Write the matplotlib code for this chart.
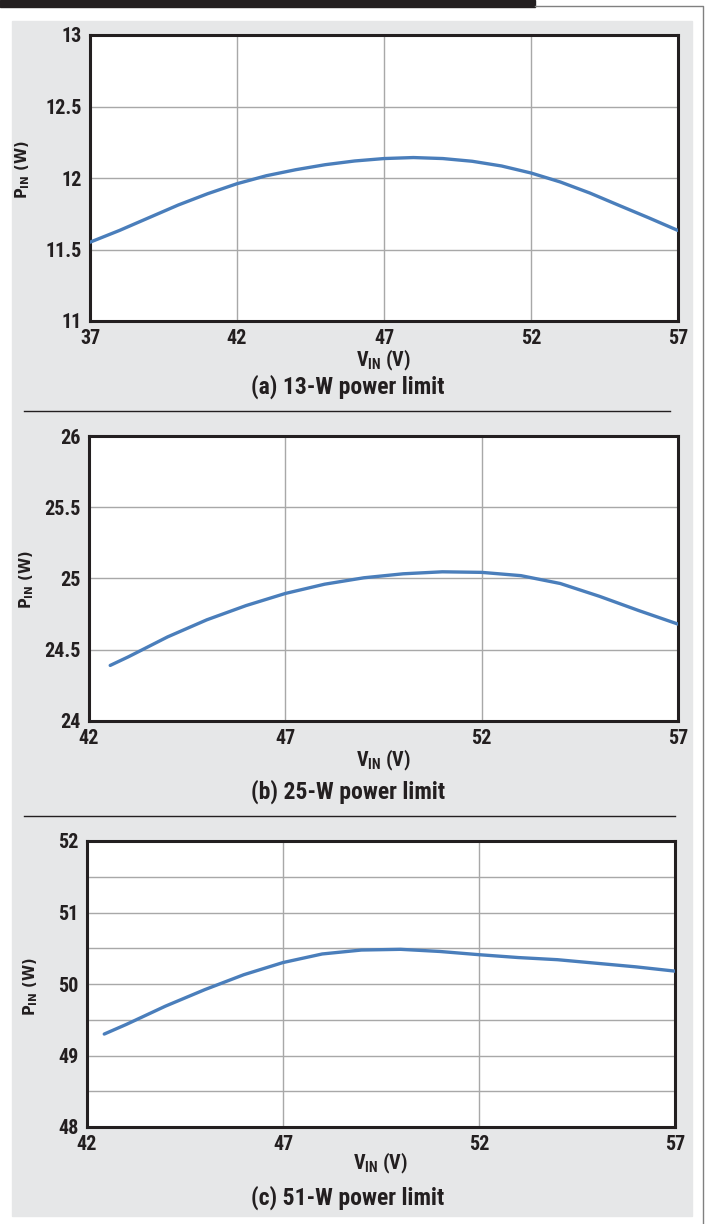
import matplotlib
matplotlib.use('Agg')
import matplotlib.pyplot as plt
from matplotlib import font_manager
from matplotlib.patches import Rectangle
from matplotlib.lines import Line2D

# ---- data ----
vin_a = [37, 38, 39, 40, 41, 42, 43, 44, 45, 46, 47, 48, 49, 50, 51, 52, 53, 54, 55, 56, 57]
pin_a = [11.551, 11.633, 11.722, 11.811, 11.890, 11.960, 12.016, 12.058, 12.093, 12.119, 12.136,
         12.143, 12.136, 12.117, 12.084, 12.035, 11.972, 11.895, 11.808, 11.722, 11.633]

vin_b = [42.54, 43, 44, 45, 46, 47, 48, 49, 50, 51, 52, 53, 54, 55, 56, 57]
pin_b = [24.39, 24.45, 24.59, 24.71, 24.81, 24.895, 24.96, 25.005, 25.033, 25.047,
         25.043, 25.02, 24.965, 24.875, 24.775, 24.68]

vin_c = [42.44, 43, 44, 45, 46, 47, 48, 49, 50, 51, 52, 53, 54, 55, 56, 57]
pin_c = [49.30, 49.434, 49.69, 49.92, 50.13, 50.30, 50.42, 50.475, 50.485, 50.455, 50.41,
         50.37, 50.34, 50.29, 50.24, 50.18]

xticks_a = [37, 42, 47, 52, 57]
xticks_bc = [42, 47, 52, 57]
yticks_a = [11, 11.5, 12, 12.5, 13]
ylabels_a = ['11', '11.5', '12', '12.5', '13']
yticks_b = [24, 24.5, 25, 25.5, 26]
ylabels_b = ['24', '24.5', '25', '25.5', '26']
yticks_c = [48, 49, 50, 51, 52]
ylabels_c = ['48', '49', '50', '51', '52']
yminor_c = [48.5, 49.5, 50.5, 51.5]

titles = ['(a) 13-W power limit', '(b) 25-W power limit', '(c) 51-W power limit']

# ---- fonts ----
names = {f.name for f in font_manager.fontManager.ttflist}
cond = next((n for n in ['Liberation Sans Narrow', 'Roboto Condensed', 'DejaVu Sans Condensed']
             if n in names), 'Liberation Sans')
plt.rcParams['font.family'] = [cond, 'DejaVu Sans']
plt.rcParams['font.weight'] = 'bold'
plt.rcParams['axes.labelweight'] = 'bold'
plt.rcParams['mathtext.fontset'] = 'custom'
plt.rcParams['mathtext.rm'] = cond + ':bold'
plt.rcParams['mathtext.bf'] = cond + ':bold'
plt.rcParams['mathtext.it'] = cond + ':bold'

W, H = 707, 1224
dark = '#231f20'
blue = '#4a7ebb'
gridc = '#a8a8a8'

fig = plt.figure(figsize=(W / 100, H / 100), dpi=100, facecolor='white')


def fx(x):
    return x / W


def fy(y):
    return 1 - y / H


# background panel and page decorations
fig.add_artist(Rectangle((fx(12), fy(1216)), fx(692) - fx(12), fy(21) - fy(1216),
                         transform=fig.transFigure, color='#e6e7e8', zorder=-5))
fig.add_artist(Rectangle((0, fy(7)), fx(535), fy(0) - fy(7),
                         transform=fig.transFigure, color=dark, zorder=-4))
fig.add_artist(Line2D([fx(535), fx(703), fx(703)], [fy(6), fy(6), fy(1224)],
                      transform=fig.transFigure, color='#808080', lw=1))
fig.add_artist(Line2D([fx(24), fx(670)], [fy(411), fy(411)], transform=fig.transFigure,
                      color=dark, lw=1))
fig.add_artist(Line2D([fx(24), fx(675)], [fy(816), fy(816)], transform=fig.transFigure,
                      color=dark, lw=1))

# axes boxes in pixels: left, right, top, bottom
boxes = [(90, 678, 35, 321), (89, 678, 436, 721), (87, 675, 841, 1127)]
series = [(vin_a, pin_a), (vin_b, pin_b), (vin_c, pin_c)]
xlims = [(37, 57), (42, 57), (42, 57)]
ylims = [(11, 13), (24, 26), (48, 52)]
xt = [xticks_a, xticks_bc, xticks_bc]
yt = [(yticks_a, ylabels_a), (yticks_b, ylabels_b), (yticks_c, ylabels_c)]
ylab_pos = [(23, 170), (27, 580), (31, 987)]
xlab_y = [360, 760, 1163]
title_y = [387, 792, 1198]

for i in range(3):
    l, r, t, b = boxes[i]
    ax = fig.add_axes([fx(l), fy(b), fx(r) - fx(l), fy(t) - fy(b)])
    x, y = series[i]
    ax.plot(x, y, color=blue, lw=2.4, solid_capstyle='round', solid_joinstyle='round', zorder=3)
    ax.set_xlim(*xlims[i])
    ax.set_ylim(*ylims[i])
    ax.set_xticks(xt[i])
    ax.set_xticklabels([str(v) for v in xt[i]])
    ax.set_yticks(yt[i][0])
    ax.set_yticklabels(yt[i][1])
    if i == 2:
        ax.set_yticks(yminor_c, minor=True)
        ax.grid(True, which='minor', axis='y', color=gridc, lw=1.0)
    ax.grid(True, which='major', color=gridc, lw=1.0)
    ax.set_axisbelow(True)
    ax.tick_params(which='both', length=0, pad=6, labelsize=14.5, colors=dark)
    for s in ax.spines.values():
        s.set_color(dark)
        s.set_linewidth(2.2)

    ax.set_xlabel(r'V$_{\mathrm{IN}}$ (V)', fontsize=14.5, color=dark, fontweight='bold')
    ax.xaxis.label.set_va('center')
    ax.xaxis.set_label_coords(0.5, (b - xlab_y[i]) / (b - t))

    ax.set_ylabel(r'P$_{\mathbf{IN}}$ (W)', fontsize=10.5, color=dark, fontweight='bold',
                  family='DejaVu Sans', math_fontfamily='dejavusans')
    ax.yaxis.label.set_va('center')
    px, py = ylab_pos[i]
    ax.yaxis.set_label_coords((px - l) / (r - l), (b - py) / (b - t))

    fig.text(fx(348), fy(title_y[i]), titles[i], ha='center', va='center',
             fontsize=17, color=dark)

fig.savefig('out.png', dpi=100, facecolor='white')
